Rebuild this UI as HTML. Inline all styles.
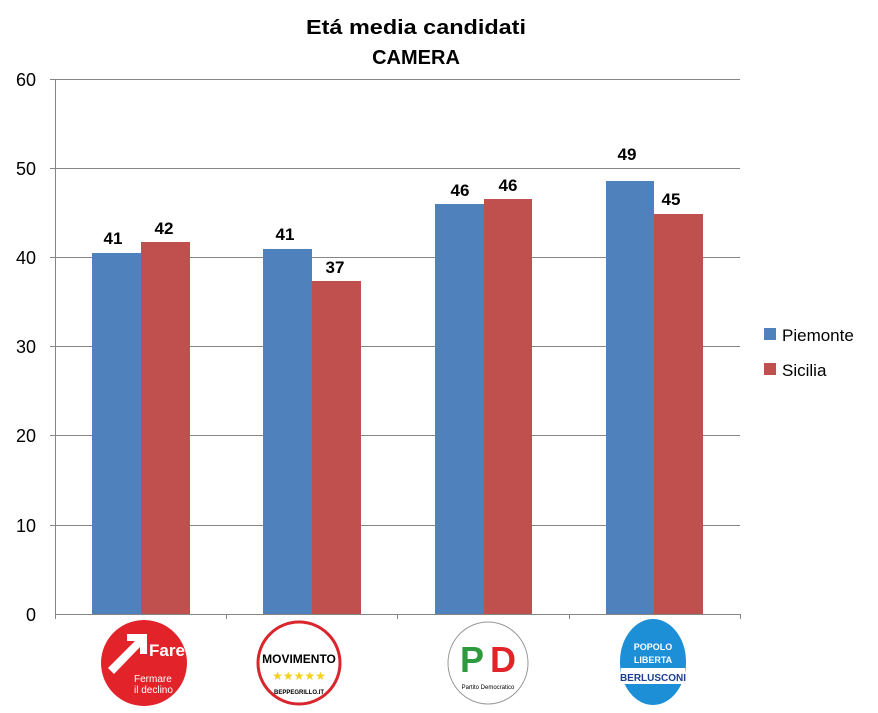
<!DOCTYPE html>
<html><head><style>
body{margin:0;background:#fff;}
svg text{font-family:"Liberation Sans","DejaVu Sans",sans-serif;}
</style></head><body>
<svg width="878" height="708" xmlns="http://www.w3.org/2000/svg">
<rect width="878" height="708" fill="#fff"/>
<text x="416" y="34" font-size="20" font-weight="bold" text-anchor="middle" textLength="220" lengthAdjust="spacingAndGlyphs">Etá media candidati</text>
<text x="416" y="64" font-size="20" font-weight="bold" text-anchor="middle">CAMERA</text>
<g stroke="#868686" stroke-width="1">
<line x1="55" y1="79.5" x2="740" y2="79.5"/>
<line x1="55" y1="168.5" x2="740" y2="168.5"/>
<line x1="55" y1="257.5" x2="740" y2="257.5"/>
<line x1="55" y1="346.5" x2="740" y2="346.5"/>
<line x1="55" y1="435.5" x2="740" y2="435.5"/>
<line x1="55" y1="525.5" x2="740" y2="525.5"/>
<line x1="55" y1="614.5" x2="740" y2="614.5"/>
<line x1="55.5" y1="79" x2="55.5" y2="619"/>
<line x1="226.5" y1="614" x2="226.5" y2="619"/>
<line x1="397.5" y1="614" x2="397.5" y2="619"/>
<line x1="569.5" y1="614" x2="569.5" y2="619"/>
<line x1="740.5" y1="614" x2="740.5" y2="619"/>
<line x1="50" y1="79.5" x2="55" y2="79.5"/><line x1="50" y1="168.5" x2="55" y2="168.5"/><line x1="50" y1="257.5" x2="55" y2="257.5"/><line x1="50" y1="346.5" x2="55" y2="346.5"/><line x1="50" y1="435.5" x2="55" y2="435.5"/><line x1="50" y1="525.5" x2="55" y2="525.5"/>
</g>
<g font-size="18" text-anchor="end">
<text x="36" y="86">60</text><text x="36" y="175">50</text><text x="36" y="264">40</text><text x="36" y="353">30</text><text x="36" y="442">20</text><text x="36" y="532">10</text><text x="36" y="621">0</text>
</g>
<g fill="#4f81bd">
<rect x="92" y="253" width="49" height="361"/>
<rect x="263" y="249" width="49" height="365"/>
<rect x="435" y="204" width="49" height="410"/>
<rect x="606" y="181" width="48" height="433"/>
</g>
<g fill="#c0504d">
<rect x="141" y="242" width="49" height="372"/>
<rect x="312" y="281" width="49" height="333"/>
<rect x="484" y="199" width="48" height="415"/>
<rect x="654" y="214" width="49" height="400"/>
</g>
<g font-size="17" font-weight="bold" text-anchor="middle">
<text x="113" y="244">41</text><text x="164" y="234">42</text>
<text x="285" y="240">41</text><text x="335" y="273">37</text>
<text x="460" y="196">46</text><text x="508" y="191">46</text>
<text x="627" y="160">49</text><text x="671" y="205">45</text>
</g>
<rect x="764" y="328" width="12" height="12" fill="#4f81bd"/>
<text x="782" y="341" font-size="17">Piemonte</text>
<rect x="764" y="363" width="12" height="12" fill="#c0504d"/>
<text x="782" y="376" font-size="17">Sicilia</text>
<circle cx="144" cy="663" r="43" fill="#e2232a"/>
<path d="M108 668 L135 641 L127 641 L127 634 L147 634 L147 654 L140 654 L140 647 L114 674Z" fill="#fff"/>
<text x="149" y="656" font-size="17" font-weight="bold" fill="#fff">Fare</text>
<text x="134" y="682" font-size="10" fill="#fff">Fermare</text>
<text x="134" y="693" font-size="10" fill="#fff">il declino</text>
<circle cx="299" cy="663" r="41" fill="#fff" stroke="#d9262c" stroke-width="3"/>
<text x="299" y="663" font-size="12" font-weight="bold" text-anchor="middle">MOVIMENTO</text>
<text x="299" y="680" font-size="12" fill="#f4d11b" text-anchor="middle">★★★★★</text>
<text x="299" y="694" font-size="6" font-weight="bold" text-anchor="middle">BEPPEGRILLO.IT</text>
<ellipse cx="488" cy="663" rx="40" ry="41" fill="#fff" stroke="#999" stroke-width="1"/>
<text x="472" y="672" font-size="36" font-weight="bold" fill="#2e9a3e" text-anchor="middle">P</text>
<text x="503" y="672" font-size="36" font-weight="bold" fill="#e2232a" text-anchor="middle">D</text>
<text x="488" y="689" font-size="6" text-anchor="middle">Partito Democratico</text>
<ellipse cx="653" cy="662" rx="34" ry="44" fill="#1d8fd6" stroke="#fff" stroke-width="2"/>
<text x="653" y="650" font-size="9" font-weight="bold" fill="#fff" text-anchor="middle">POPOLO</text>
<text x="653" y="663" font-size="9" font-weight="bold" fill="#fff" text-anchor="middle">LIBERTA</text>
<rect x="621" y="668" width="64" height="16" fill="#fff"/>
<text x="653" y="681" font-size="10" font-weight="bold" fill="#1b3f8f" text-anchor="middle">BERLUSCONI</text>
</svg>
</body></html>
